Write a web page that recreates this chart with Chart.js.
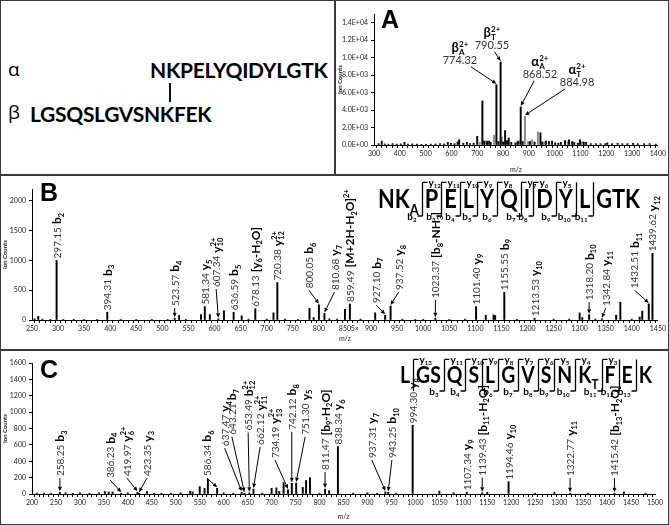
<!DOCTYPE html>
<html lang="en">
<head>
<meta charset="UTF-8">
<meta name="viewport" content="width=device-width, initial-scale=1.0">
<title>Crosslinked peptide MS/MS spectra</title>
<script src="https://cdn.jsdelivr.net/npm/chart.js@4.4.1/dist/chart.umd.min.js"></script>
<style>
  html, body { margin: 0; padding: 0; background: #fff; }
  #fig { position: relative; width: 669px; height: 525px; overflow: hidden; font-family: Lato, "Open Sans", sans-serif; color: #000; }
  .frame { position: absolute; left: 0; top: 0; width: 669px; height: 525px; box-sizing: border-box; border: 1.5px solid #3a3a3a; }
  .hline { position: absolute; left: 0; width: 669px; height: 1.5px; background: #3a3a3a; }
  .vline { position: absolute; top: 0; width: 1.5px; height: 175px; background: #3a3a3a; }
  .panel { position: absolute; }
  .tag { position: absolute; font: bold 25px/1 "Liberation Sans", Arial, sans-serif; }
  .greek { position: absolute; font: 19px/1 "Open Sans", sans-serif; }
  .seq { position: absolute; font: bold 21px/1 Lato, sans-serif; white-space: nowrap; letter-spacing: -0.3px; }
  .link { position: absolute; left: 169px; top: 83px; width: 2px; height: 19px; background: #111; }
</style>
</head>
<body>
<div id="fig">
  <div class="frame"></div>
  <div class="hline" style="top:174px"></div>
  <div class="hline" style="top:349px"></div>
  <div class="vline" style="left:334px"></div>

  <div class="greek" style="left:8px; top:60px">α</div>
  <div class="seq" style="left:150px; top:59px">NKPELYQIDYLGTK</div>
  <div class="link"></div>
  <div class="greek" style="left:8px; top:103px">β</div>
  <div class="seq" style="left:30px; top:103px">LGSQSLGVSNKFEK</div>

  <canvas id="chartA" class="panel" width="332" height="173" style="left:336px; top:1px"></canvas>
  <canvas id="chartB" class="panel" width="667" height="167" style="left:1px; top:176px"></canvas>
  <canvas id="chartC" class="panel" width="667" height="170" style="left:1px; top:351px"></canvas>

  <div class="tag" style="left:381px; top:7px">A</div>
  <div class="tag" style="left:40px; top:180px">B</div>
  <div class="tag" style="left:40px; top:357px">C</div>
</div>

<script>
const FONT = 'Lato, "Open Sans", "DejaVu Sans", sans-serif';

// ---- panel A: precursor scan
const aMz = [318, 330, 342, 356, 372, 388, 404, 418, 432, 448,
             466, 484, 502, 520, 538, 556, 572, 586, 598, 612,
             624, 630, 646, 660, 672, 686, 700, 720, 727, 738,
             746, 752, 774.32, 782, 790.55, 800, 808, 816, 822, 832,
             848, 858, 868.52, 876, 904, 922, 945, 952, 966, 978,
             990, 1002, 1014, 1024, 1040, 1056, 1068, 1076, 1090, 1098,
             1112, 1122, 1140, 1160, 1178, 1196, 1204, 1222, 1244, 1262,
             1282, 1304, 1322, 1346, 1368, 1392];
const aCounts = [150, 450, 120, 100, 150, 100, 120, 300, 100, 120,
                 100, 80, 90, 100, 120, 150, 120, 300, 200, 150,
                 350, 600, 200, 300, 150, 200, 1000, 5050, 450, 400,
                 450, 300, 6900, 400, 9500, 350, 1650, 500, 800, 300,
                 250, 400, 4350, 400, 400, 350, 1400, 350, 450, 400,
                 450, 250, 200, 300, 500, 600, 400, 300, 200, 600,
                 350, 300, 150, 150, 150, 150, 250, 150, 200, 150,
                 150, 200, 150, 150, 150, 100];
// grey peaks
const aIsoMz = [710, 735, 765, 795, 812, 855, 863, 884.98, 897, 912, 935, 960, 1050, 1105, 1113];
const aIsoCounts = [300, 500, 1150, 900, 500, 450, 500, 3300, 400, 600, 1500, 300, 400, 350, 300];
const aYTicks = [0, 2000, 4000, 6000, 8000, 10000, 12000, 14000];
// [peak m/z, name, label centre m/z, label centre counts]
const aLabels = [
  [774.32, 'β_{A}^{2+}', 633, 11140],
  [790.55, 'β_{T}^{2+}', 757, 12860],
  [868.52, 'α_{A}^{2+}', 943, 9530],
  [884.98, 'α_{T}^{2+}', 1087, 8600]
];

// ---- panel B: alpha peptide fragments
const bMz = [255, 262, 270, 285, 297.15, 310, 330, 350, 375, 394.31,
             420, 450, 480, 510, 523.57, 532, 545, 574, 581.34, 591,
             607.34, 618, 636.59, 652, 665, 678.13, 700, 713, 720.38, 735,
             760, 782, 790, 800.05, 810.68, 820, 835, 850, 859.49, 880,
             908, 927.10, 937.52, 960, 985, 1000, 1023.37, 1050, 1080, 1101.40,
             1120, 1135, 1138, 1155.55, 1180, 1213.53, 1250, 1280, 1300, 1305,
             1318.20, 1330, 1342.84, 1370, 1378, 1400, 1415, 1420, 1432.51, 1439.62];
const bCounts = [20, 60, 15, 10, 1000, 10, 10, 10, 10, 130,
                 10, 10, 10, 10, 30, 75, 10, 90, 225, 90,
                 20, 155, 130, 70, 15, 190, 15, 120, 630, 15,
                 10, 195, 40, 255, 110, 20, 15, 180, 270, 15,
                 120, 80, 235, 15, 10, 10, 30, 10, 15, 225,
                 80, 85, 75, 465, 10, 30, 15, 15, 120, 40,
                 90, 15, 20, 80, 300, 15, 50, 150, 270, 1120];
const bYTicks = [0, 500, 1000, 1500, 2000];
// [peak m/z, ion, label m/z, label bottom counts] (last two only for arrowed labels)
const bLabels = [
  [297.15, 'b_{2}'], [394.31, 'b_{3}'], [523.57, 'b_{4}', 523.57, 200],
  [581.34, 'y_{5}'], [607.34, 'y_{10}^{2+}', 603, 520], [636.59, 'b_{5}'],
  [678.13, '[y_{6}-H_{2}O]'], [720.38, 'y_{12}^{2+}'],
  [800.05, 'b_{6}', 781, 500], [810.68, 'y_{7}', 830, 470],
  [859.49, '[M+2H-H_{2}O]^{2+}'], [927.10, 'b_{7}', 910, 250], [937.52, 'y_{8}', 953, 470],
  [1023.37, '[b_{8}-NH_{3}]', 1023.37, 335], [1101.40, 'y_{9}'], [1155.55, 'b_{9}'],
  [1213.53, 'y_{10}'], [1318.20, 'b_{10}', 1318.2, 300], [1342.84, 'y_{11}', 1350, 200],
  [1432.51, 'b_{11}', 1405, 500], [1439.62, 'y_{12}']
];
const alphaSeq = 'NKPELYQIDYLGTK';
const alphaLink = [2, 'A'];
const alphaB = [2, 3, 4, 5, 6, 7, 8, 9, 10, 11];
const alphaY = [12, 11, 10, 9, 8, 7, 6, 5];

// ---- panel C: beta peptide fragments
const cMz = [210, 225, 240, 258.25, 270, 285, 300, 320, 340, 352,
             360, 368, 386.23, 400, 419.97, 423.35, 440, 455, 470, 490,
             510, 530, 535, 550, 560, 567, 586.34, 600, 620, 637.47,
             643.21, 653.49, 662.12, 680, 700, 710, 716, 725, 734.19, 742.12,
             751.30, 765, 772, 780, 800, 811.47, 820, 838.34, 870, 900,
             920, 937.31, 943.25, 960, 994.30, 1050, 1080, 1107.34, 1139.43, 1150,
             1194.46, 1250, 1290, 1322.77, 1360, 1415.42, 1435, 1480];
const cCounts = [10, 10, 10, 20, 15, 10, 15, 10, 15, 30,
                 25, 25, 10, 15, 20, 10, 30, 10, 10, 10,
                 15, 35, 25, 90, 70, 180, 70, 15, 10, 20,
                 10, 15, 60, 10, 70, 75, 30, 140, 50, 130,
                 135, 80, 165, 200, 10, 60, 40, 580, 10, 15,
                 10, 25, 20, 10, 840, 35, 15, 20, 15, 20,
                 150, 10, 20, 10, 10, 10, 25, 10];
const cYTicks = [0, 200, 400, 600, 800, 1000, 1200, 1400, 1600];
const cLabels = [
  [258.25, 'b_{3}', 258.25, 195], [386.23, 'b_{4}', 363, 170], [419.97, 'y_{6}^{2+}', 398, 195],
  [423.35, 'y_{3}', 440, 195], [586.34, 'b_{6}', 565, 195], [637.47, 'y_{4}', 602, 560],
  [643.21, 'b_{7}', 617, 700], [653.49, 'b_{12}^{2+}', 651, 750], [662.12, 'y_{11}^{2+}', 676, 575],
  [734.19, 'y_{13}^{2+}', 707, 415], [742.12, 'b_{8}', 742.12, 760], [751.30, 'y_{5}', 770, 700],
  [811.47, '[b_{9}-H_{2}O]', 811.47, 270], [838.34, 'y_{6}'],
  [937.31, 'y_{7}', 909, 415], [943.25, 'b_{10}', 951, 415], [994.30, 'y_{8}'],
  [1107.34, 'y_{9}'], [1139.43, '[b_{11}-H_{2}O]', 1139.43, 200], [1194.46, 'y_{10}'],
  [1322.77, 'y_{11}', 1322.77, 195], [1415.42, '[b_{13}-H_{2}O]', 1415.42, 195]
];
const betaSeq = 'LGSQSLGVSNKFEK';
const betaLink = [11, 'T'];
const betaB = [3, 4, 6, 7, 8, 9, 10, 11, 12, 13];
const betaY = [13, 11, 10, 9, 8, 7, 6, 5, 4, 3];

// text with _{sub} and ^{sup}; returns width
function parseRich(s) {
  const out = [];
  let buf = '', i = 0;
  while (i < s.length) {
    const c = s[i];
    if ((c === '_' || c === '^') && s[i + 1] === '{') {
      if (buf) { out.push({ t: buf, m: 0 }); buf = ''; }
      const j = s.indexOf('}', i);
      out.push({ t: s.slice(i + 2, j), m: c === '_' ? 1 : 2 });
      i = j + 1;
    } else { buf += c; i++; }
  }
  if (buf) out.push({ t: buf, m: 0 });
  return out;
}

function drawRich(ctx, s, x, y, size, weight, dry) {
  let cx = x, subStart = null;
  for (const p of parseRich(s)) {
    const fs = p.m ? size * 0.62 : size;
    ctx.font = `${weight} ${fs}px ${FONT}`;
    const px = (p.m === 2 && subStart !== null) ? subStart : cx;
    const dy = p.m === 1 ? size * 0.22 : p.m === 2 ? -size * 0.42 : 0;
    if (!dry) ctx.fillText(p.t, px, y + dy);
    const w = ctx.measureText(p.t).width;
    if (p.m === 1) { subStart = cx; cx += w; }
    else { cx = Math.max(cx, px + w); subStart = null; }
  }
  return cx - x;
}

function arrow(ctx, x1, y1, x2, y2) {
  const a = Math.atan2(y2 - y1, x2 - x1), h = 4.5, hw = 2;
  const bx = x2 - h * Math.cos(a), by = y2 - h * Math.sin(a);
  ctx.beginPath(); ctx.moveTo(x1, y1); ctx.lineTo(bx, by); ctx.stroke();
  ctx.beginPath();
  ctx.moveTo(x2, y2);
  ctx.lineTo(bx + hw * Math.sin(a), by - hw * Math.cos(a));
  ctx.lineTo(bx - hw * Math.sin(a), by + hw * Math.cos(a));
  ctx.closePath(); ctx.fill();
}

function peakTop(mz, counts, m) {
  let best = 0;
  for (let i = 1; i < mz.length; i++) if (Math.abs(mz[i] - m) < Math.abs(mz[best] - m)) best = i;
  return counts[best];
}

function vertLabel(ctx, x, y, num, ion) {
  ctx.save();
  ctx.translate(x, y);
  ctx.rotate(-Math.PI / 2);
  ctx.textAlign = 'left';
  ctx.textBaseline = 'alphabetic';
  ctx.fillStyle = '#333';
  ctx.font = `10px ${FONT}`;
  ctx.fillText(num, 0, 4);
  const w = ctx.measureText(num).width + 3;
  ctx.fillStyle = '#000';
  drawRich(ctx, ion, w, 4.5, 12, 'bold');
  ctx.restore();
}

function fragmentLabels(mz, counts, labels) {
  return {
    id: 'fragLabels',
    afterDraw(chart) {
      const { ctx, scales: { x, y } } = chart;
      ctx.save();
      ctx.strokeStyle = '#000'; ctx.fillStyle = '#000'; ctx.lineWidth = 1;
      labels.forEach(([m, ion, lx, base]) => {
        const px = x.getPixelForValue(m);
        const top = y.getPixelForValue(peakTop(mz, counts, m));
        let bx = px, by = top - 2;
        if (lx !== undefined) {
          bx = x.getPixelForValue(lx);
          by = y.getPixelForValue(base);
          arrow(ctx, bx, by, px, top - 1);
          by -= 2;
        }
        vertLabel(ctx, bx, by, m.toFixed(2), ion);
      });
      ctx.restore();
    }
  };
}

function precursorLabels(mz, counts, labels) {
  return {
    id: 'precLabels',
    afterDraw(chart) {
      const { ctx, scales: { x, y } } = chart;
      ctx.save();
      ctx.strokeStyle = '#000'; ctx.fillStyle = '#000'; ctx.lineWidth = 1;
      ctx.textBaseline = 'alphabetic';
      labels.forEach(([m, name, lx, ly]) => {
        const cx = x.getPixelForValue(lx), cy = y.getPixelForValue(ly);
        const px = x.getPixelForValue(m), top = y.getPixelForValue(peakTop(mz, counts, m));
        ctx.textAlign = 'left';
        ctx.fillStyle = '#000';
        const w = drawRich(ctx, name, 0, 0, 13, 'bold', true);
        drawRich(ctx, name, cx - w / 2, cy + 4.5, 13, 'bold');
        ctx.font = `11px ${FONT}`;
        ctx.fillStyle = '#333';
        ctx.textAlign = 'center';
        ctx.fillText(m.toFixed(2), cx, cy + 16);
        ctx.fillStyle = '#000';
        const sx = cx + Math.max(-12, Math.min(12, 0.3 * (px - cx)));
        arrow(ctx, sx, cy + 19, px, top - 1);
      });
      ctx.restore();
    }
  };
}

// peptide with b/y cleavage brackets, squeezed horizontally to fit x0..x1
function sequencePlugin(seq, link, bIons, yIons, x0, x1, base, size) {
  return {
    id: 'sequence',
    afterDraw(chart) {
      const ctx = chart.ctx, n = seq.length, gap = 6;
      const cuts = [];
      for (let i = 1; i < n; i++) if (bIons.includes(i) || yIons.includes(n - i)) cuts.push(i);
      ctx.font = `bold ${size}px ${FONT}`;
      let W = 0;
      for (const ch of seq) W += ctx.measureText(ch).width;
      ctx.font = `bold ${size * 0.6}px ${FONT}`;
      W += ctx.measureText(link[1]).width;
      const sx = Math.min(1, (x1 - x0 - gap * cuts.length) / W);
      const top = base - size * 0.72 - 7, bot = base + 8;
      ctx.save();
      ctx.fillStyle = '#000'; ctx.strokeStyle = '#000'; ctx.lineWidth = 1.3;
      ctx.textAlign = 'left'; ctx.textBaseline = 'alphabetic';
      const put = (t, fs, x, y) => {
        ctx.font = `bold ${fs}px ${FONT}`;
        ctx.save(); ctx.translate(x, y); ctx.scale(sx, 1); ctx.fillText(t, 0, 0); ctx.restore();
        return ctx.measureText(t).width * sx;
      };
      let cx = x0;
      for (let i = 1; i <= n; i++) {
        cx += put(seq[i - 1], size, cx, base);
        if (i === link[0]) cx += put(link[1], size * 0.6, cx, base + size * 0.25);
        if (cuts.includes(i)) {
          const lx = Math.round(cx + gap / 2) + 0.5;
          const hasY = yIons.includes(n - i), hasB = bIons.includes(i);
          ctx.beginPath();
          ctx.moveTo(lx, top); ctx.lineTo(lx, bot);
          if (hasY) { ctx.moveTo(lx, top); ctx.lineTo(lx + 5, top); }
          if (hasB) { ctx.moveTo(lx, bot); ctx.lineTo(lx - 5, bot); }
          ctx.stroke();
          if (hasY) drawRich(ctx, `y_{${n - i}}`, lx + 6, top + 3.5, 10, 'bold');
          if (hasB) {
            const t = `b_{${i}}`, w = drawRich(ctx, t, 0, 0, 10, 'bold', true);
            drawRich(ctx, t, lx - 6 - w, bot + 3.5, 10, 'bold');
          }
          cx += gap;
        }
      }
      ctx.restore();
    }
  };
}

const zoomMark = {
  id: 'zoomMark',
  afterDraw(chart) {
    const { ctx, scales: { x } } = chart;
    ctx.save();
    ctx.fillStyle = '#222';
    ctx.font = `7px ${FONT}`;
    ctx.textAlign = 'center';
    ctx.textBaseline = 'top';
    ctx.fillText('5×', x.getPixelForValue(869), x.top + 5);
    ctx.restore();
  }
};

function sci(v) {
  if (v === 0) return '0.0E+00';
  const e = Math.floor(Math.log10(v));
  return (v / Math.pow(10, e)).toFixed(1) + 'E+' + String(e).padStart(2, '0');
}

function peaks(mz, counts) {
  return mz.map((m, i) => ({ x: m, y: counts[i] }));
}

function axes(c) {
  const tickFont = { family: FONT, size: 7 };
  return {
    x: {
      type: 'linear', min: c.xmin, max: c.xmax, offset: false,
      ticks: { stepSize: c.xminor, autoSkip: false, maxRotation: 0, includeBounds: false,
               color: '#222', font: tickFont, padding: 2,
               callback: v => (v % c.xmajor === 0 ? v : '') },
      grid: { drawOnChartArea: false, tickLength: 3, color: '#000' },
      border: { color: '#000', width: 1 },
      title: { display: true, text: 'm/z', color: '#222', font: tickFont, padding: { top: 2, bottom: 0 } },
      afterFit: s => { s.height = c.xh; }
    },
    y: {
      min: 0, max: c.ymax,
      ticks: { color: '#222', font: tickFont, padding: 3, autoSkip: false,
               callback: c.yfmt || (v => v) },
      afterBuildTicks: s => { s.ticks = c.yticks.map(v => ({ value: v })); },
      grid: { drawOnChartArea: false, tickLength: 3, color: '#000' },
      border: { color: '#000', width: 1 },
      title: { display: true, text: 'Ion Counts', color: '#222',
               font: { family: FONT, size: 6, weight: 'bold' }, padding: { top: 0, bottom: 2 } },
      afterFit: s => { s.width = c.yw; }
    }
  };
}

function spectrumChart(id, datasets, ax, pad, plugins) {
  return new Chart(document.getElementById(id), {
    type: 'bar',
    data: { datasets },
    options: {
      responsive: false, animation: false, events: [],
      layout: { padding: pad },
      plugins: { legend: { display: false }, tooltip: { enabled: false } },
      scales: axes(ax)
    },
    plugins
  });
}

const bar = (data, color) => ({ data, backgroundColor: color, barThickness: 1.3, grouped: false });

spectrumChart('chartA',
  [bar(peaks(aMz, aCounts), '#000'), bar(peaks(aIsoMz, aIsoCounts), '#8c8c8c')],
  { xmin: 300, xmax: 1400, xminor: 20, xmajor: 100, xh: 29, ymax: 15000, yticks: aYTicks, yw: 38, yfmt: sci },
  { top: 13, right: 10, left: 0, bottom: 0 },
  [precursorLabels(aMz.concat(aIsoMz), aCounts.concat(aIsoCounts), aLabels)]);

spectrumChart('chartB',
  [bar(peaks(bMz, bCounts), '#000')],
  { xmin: 250, xmax: 1450, xminor: 10, xmajor: 50, xh: 23, ymax: 2200, yticks: bYTicks, yw: 31 },
  { top: 13, right: 8, left: 0, bottom: 0 },
  [fragmentLabels(bMz, bCounts, bLabels), sequencePlugin(alphaSeq, alphaLink, alphaB, alphaY, 377, 639, 32, 26), zoomMark]);

spectrumChart('chartC',
  [bar(peaks(cMz, cCounts), '#000')],
  { xmin: 200, xmax: 1500, xminor: 10, xmajor: 50, xh: 27, ymax: 1600, yticks: cYTicks, yw: 31 },
  { top: 12, right: 13, left: 0, bottom: 0 },
  [fragmentLabels(cMz, cCounts, cLabels), sequencePlugin(betaSeq, betaLink, betaB, betaY, 399, 651, 32, 23)]);
</script>
</body>
</html>
